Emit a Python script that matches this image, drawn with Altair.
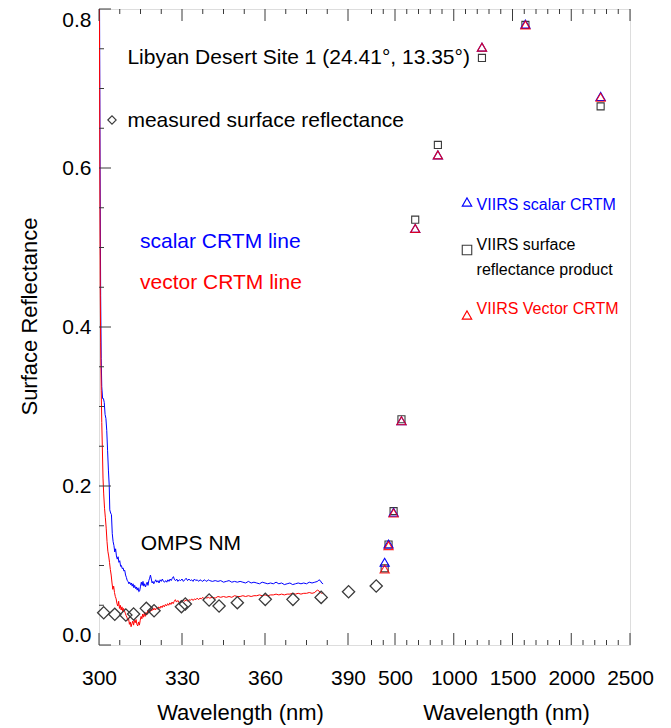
import altair as alt
import pandas as pd

# ---------------- data ----------------
# CRTM simulated spectra (OMPS NM range), scalar and vector
scalar_wl = [300.0, 300.2, 300.4, 300.6, 300.8, 301.0, 301.3, 301.6, 301.9, 302.2, 302.5, 302.8,
             303.1, 303.4, 303.7, 303.9, 304.2, 304.5, 304.8, 305.1, 305.4, 305.7, 306.0, 306.3,
             306.6, 306.9, 307.2, 307.5, 307.8, 308.1, 308.4, 308.7, 309.0, 309.3, 309.6, 309.9,
             310.2, 310.5, 310.8, 311.1, 311.4, 311.7, 312.0, 312.3, 312.6, 312.9, 313.2, 313.5,
             313.8, 314.1, 314.4, 314.7, 315.0, 315.3, 315.6, 315.9, 316.2, 316.5, 316.8, 317.1,
             317.4, 317.7, 318.0, 318.3, 318.6, 318.9, 319.2, 319.5, 319.8, 320.1, 320.5, 320.9,
             321.3, 321.7, 322.1, 322.5, 322.9, 323.3, 323.7, 324.1, 324.5, 324.9, 325.3, 325.7,
             326.1, 326.5, 326.9, 327.3, 327.7, 328.1, 328.5, 329.0, 329.5, 330.0, 330.5, 331.0,
             331.5, 332.0, 332.5, 333.0, 333.5, 334.0, 334.5, 335.0, 335.5, 336.0, 336.5, 337.0,
             337.5, 338.0, 338.5, 339.0, 339.5, 340.0, 341, 342, 343, 344, 345, 346, 347, 348,
             349, 350, 351, 352, 353, 354, 355, 356, 357, 358, 359, 360, 361, 362, 363, 364, 365,
             366, 367, 368, 369, 370, 371, 372, 373, 374, 375, 376, 377, 378, 379, 379.5, 380,
             380.5, 381]
scalar_r = [0.98, 0.80, 0.60, 0.44, 0.36, 0.325, 0.31, 0.31, 0.305, 0.29, 0.285, 0.27,
            0.245, 0.22, 0.20, 0.17, 0.166, 0.164, 0.14, 0.13, 0.125, 0.117, 0.121, 0.112,
            0.108, 0.111, 0.104, 0.106, 0.099, 0.100, 0.096, 0.097, 0.093, 0.094, 0.088, 0.085,
            0.081, 0.080, 0.077, 0.079, 0.076, 0.078, 0.074, 0.077, 0.072, 0.075, 0.071, 0.073,
            0.069, 0.072, 0.067, 0.068, 0.074, 0.079, 0.075, 0.080, 0.074, 0.077, 0.073, 0.076,
            0.079, 0.075, 0.081, 0.084, 0.088, 0.083, 0.078, 0.080, 0.077, 0.079, 0.082, 0.079,
            0.081, 0.078, 0.082, 0.080, 0.083, 0.080, 0.079, 0.081, 0.079, 0.082, 0.080, 0.083,
            0.081, 0.084, 0.086, 0.082, 0.081, 0.083, 0.080, 0.082, 0.081, 0.083, 0.080, 0.082,
            0.084, 0.081, 0.083, 0.081, 0.082, 0.080, 0.083, 0.081, 0.082, 0.080, 0.082, 0.081,
            0.080, 0.082, 0.081, 0.080, 0.082, 0.081, 0.080, 0.081, 0.080, 0.081, 0.079, 0.080,
            0.081, 0.079, 0.080, 0.079, 0.080, 0.079, 0.078, 0.080, 0.078, 0.079, 0.078, 0.077,
            0.079, 0.078, 0.077, 0.078, 0.077, 0.079, 0.077, 0.078, 0.076, 0.077, 0.078, 0.076,
            0.077, 0.078, 0.077, 0.078, 0.077, 0.079, 0.078, 0.079, 0.080, 0.082, 0.081,
            0.078, 0.077]

vector_wl = [300.0, 300.15, 300.3, 300.45, 300.6, 300.8, 301.0, 301.2, 301.45, 301.7, 302.0,
             302.3, 302.6, 302.9, 303.2, 303.5, 303.8, 304.1, 304.4, 304.7, 305.0, 305.3, 305.6,
             305.9, 306.2, 306.5, 306.8, 307.1, 307.4, 307.7, 308.0, 308.3, 308.6, 308.9, 309.2,
             309.5, 309.8, 310.1, 310.4, 310.7, 311.0, 311.3, 311.6, 311.9, 312.2, 312.5, 312.8,
             313.1, 313.4, 313.7, 314.0, 314.3, 314.6, 314.9, 315.2, 315.5, 315.8, 316.1, 316.4,
             316.7, 317.0, 317.3, 317.6, 317.9, 318.2, 318.5, 318.8, 319.1, 319.4, 319.7, 320.0,
             320.4, 320.8, 321.2, 321.6, 322.0, 322.4, 322.8, 323.2, 323.6, 324.0, 324.4, 324.8,
             325.2, 325.6, 326.0, 326.4, 326.8, 327.2, 327.6, 328.0, 328.5, 329.0, 329.5, 330.0,
             330.5, 331.0, 331.5, 332.0, 332.5, 333.0, 333.5, 334.0, 334.5, 335.0, 335.5, 336.0,
             336.5, 337.0, 337.5, 338.0, 338.5, 339.0, 339.5, 340.0, 341, 342, 343, 344, 345,
             346, 347, 348, 349, 350, 351, 352, 353, 354, 355, 356, 357, 358, 359, 360, 361, 362,
             363, 364, 365, 366, 367, 368, 369, 370, 371, 372, 373, 374, 375, 376, 377, 378,
             378.5, 379, 379.5, 380, 380.5, 381]
vector_r = [0.98, 0.80, 0.60, 0.45, 0.38, 0.32, 0.28, 0.25, 0.21, 0.19, 0.172,
            0.160, 0.147, 0.130, 0.118, 0.112, 0.104, 0.095, 0.088, 0.078, 0.070, 0.074, 0.066,
            0.061, 0.058, 0.052, 0.049, 0.055, 0.046, 0.050, 0.044, 0.048, 0.042, 0.046, 0.043,
            0.040, 0.037, 0.035, 0.031, 0.033, 0.026, 0.029, 0.023, 0.027, 0.030, 0.025, 0.031,
            0.028, 0.032, 0.026, 0.024, 0.029, 0.025, 0.031, 0.036, 0.033, 0.039, 0.035, 0.040,
            0.036, 0.041, 0.038, 0.043, 0.040, 0.044, 0.042, 0.045, 0.043, 0.047, 0.044, 0.046,
            0.044, 0.047, 0.045, 0.048, 0.046, 0.049, 0.047, 0.050, 0.048, 0.051, 0.049, 0.052,
            0.050, 0.053, 0.051, 0.054, 0.052, 0.055, 0.057, 0.054, 0.056, 0.053, 0.055, 0.054,
            0.056, 0.055, 0.057, 0.055, 0.057, 0.056, 0.058, 0.056, 0.058, 0.057, 0.059, 0.057,
            0.059, 0.058, 0.060, 0.058, 0.060, 0.059, 0.060, 0.059, 0.060, 0.059, 0.061, 0.060, 0.061,
            0.060, 0.061, 0.060, 0.062, 0.061, 0.061, 0.062, 0.061, 0.062, 0.061, 0.062, 0.062, 0.063, 0.062, 0.063, 0.062, 0.063,
            0.063, 0.064, 0.063, 0.064, 0.063, 0.064, 0.064, 0.065, 0.064, 0.065, 0.064, 0.065, 0.065, 0.066, 0.065, 0.066,
            0.068, 0.069, 0.068, 0.066, 0.065, 0.066]

# measured surface reflectance (diamonds)
omps_wl = [301.7, 305.7, 309.7, 312.5, 317.1, 319.9, 329.8, 331.2, 339.8, 343.4, 350.0,
           360.1, 370.1, 380.3, 390.2, 400.2]
omps_r = [0.0406, 0.0386, 0.0377, 0.0390, 0.0461, 0.0431, 0.0482, 0.0516, 0.0566, 0.0491,
          0.0532, 0.0574, 0.0574, 0.0599, 0.0670, 0.0742]

# VIIRS bands
viirs_wl = [412, 445, 488, 555, 672, 865, 1240, 1610, 2250]
viirs_product = [0.0964, 0.1264, 0.1684, 0.284, 0.535, 0.629, 0.7385, 0.780, 0.6775]
viirs_scalar = [0.104, 0.127, 0.167, 0.282, 0.524, 0.6165, 0.752, 0.781, 0.690]
viirs_vector = [0.0955, 0.125, 0.166, 0.282, 0.524, 0.6165, 0.752, 0.780, 0.689]

# axis ticks / labels
left_labels = [300, 330, 360, 390]
left_minor = [307.5, 315, 322.5, 337.5, 345, 352.5, 367.5, 375, 382.5]
right_labels = [500, 1000, 1500, 2000, 2500]
right_minor = [300, 400, 600, 700, 800, 900, 1100, 1200, 1300, 1400, 1600, 1700, 1800,
               1900, 2100, 2200, 2300, 2400]
y_labels = [0.0, 0.2, 0.4, 0.6, 0.8]
y_minor = [0.05, 0.1, 0.15, 0.25, 0.3, 0.35, 0.45, 0.5, 0.55, 0.65, 0.7, 0.75]

# ---------------- chart ----------------
FONT = "Liberation Sans"
BLUE = "#0000ff"
RED = "#ff0000"
GRAY = "#3a3a3a"
W, H = 531, 636
SPLIT = 249

y_scale = alt.Scale(domain=[0, 0.8], nice=False, zero=False)
left_x = alt.Scale(domain=[300, 390], range=[0, SPLIT], nice=False, zero=False)
right_x = alt.Scale(domain=[100, 2500], range=[SPLIT, W], nice=False, zero=False)

axis_common = dict(orient="bottom", ticks=False, domain=False, grid=False, labelFontSize=21,
                   labelPadding=22, titleFontSize=22, titlePadding=14, format="d",
                   labelOverlap=False, labelFlush=False, labelColor="black", titleColor="black",
                   titleFontWeight="normal", labelFont=FONT, titleFont=FONT)
left_axis = alt.Axis(values=left_labels, title="Wavelength (nm)", titleX=141, **axis_common)
right_axis = alt.Axis(values=right_labels, title="Wavelength (nm)", titleX=407, **axis_common)
y_axis = alt.Axis(values=y_labels, format=".1f", title="Surface Reflectance", ticks=False,
                  domain=False, grid=False, labelFontSize=21, labelPadding=8, labelFlush=True,
                  titleFontSize=22, titlePadding=20, titleY=307, labelColor="black",
                  titleColor="black", titleFontWeight="normal", labelFont=FONT, titleFont=FONT)


def lx(field="wl"):
    return alt.X(f"{field}:Q", scale=left_x, axis=left_axis)


def rx(field="wl"):
    return alt.X(f"{field}:Q", scale=right_x, axis=right_axis)


def yy(field="r"):
    return alt.Y(f"{field}:Q", scale=y_scale, axis=y_axis)


lines_df = pd.concat([
    pd.DataFrame({"wl": scalar_wl, "r": scalar_r, "series": "scalar"}),
    pd.DataFrame({"wl": vector_wl, "r": vector_r, "series": "vector"}),
])

lines = alt.Chart(lines_df).mark_line(clip=True, strokeWidth=1).encode(
    x=lx(), y=yy(),
    color=alt.Color("series:N", scale=alt.Scale(domain=["scalar", "vector"], range=[BLUE, RED]),
                    legend=None),
    order=alt.Order("wl:Q"),
)

diamonds = alt.Chart(pd.DataFrame({"wl": omps_wl, "r": omps_r})).mark_point(
    shape="diamond", size=150, filled=False, color=GRAY, strokeWidth=1.3, opacity=1
).encode(x=lx(), y=yy())


def tick_rules(values, scale_fn, length, top):
    df = pd.DataFrame({"v": values})
    if top:
        return alt.Chart(df).mark_rule(color=GRAY, strokeWidth=1).encode(
            x=scale_fn("v"), y=alt.value(0), y2=alt.value(length))
    return alt.Chart(df).mark_rule(color=GRAY, strokeWidth=1).encode(
        x=scale_fn("v"), y=alt.value(H), y2=alt.value(H - length))


left_ticks = [
    tick_rules(left_labels, lx, 12, False), tick_rules(left_minor, lx, 5, False),
    tick_rules(left_labels, lx, 12, True), tick_rules(left_minor, lx, 5, True),
]
right_ticks = [
    tick_rules(right_labels, rx, 12, False), tick_rules(right_minor, rx, 5, False),
    tick_rules(right_labels, rx, 12, True), tick_rules(right_minor, rx, 5, True),
]

y_major_ticks = alt.Chart(pd.DataFrame({"v": y_labels})).mark_rule(color=GRAY).encode(
    y=yy("v"), x=alt.value(0), x2=alt.value(12))
y_minor_ticks = alt.Chart(pd.DataFrame({"v": y_minor})).mark_rule(color=GRAY).encode(
    y=yy("v"), x=alt.value(0), x2=alt.value(5))


def label(text, x, y, size=21, color="black"):
    return alt.Chart(pd.DataFrame({"t": [text]})).mark_text(
        align="left", baseline="middle", fontSize=size, font=FONT, color=color
    ).encode(x=alt.value(x), y=alt.value(y), text="t:N")


def legend_symbol(shape, x, y, color, size):
    return alt.Chart(pd.DataFrame({"s": [shape]})).mark_point(
        shape=shape, size=size, filled=False, color=color, strokeWidth=1.1, opacity=1
    ).encode(x=alt.value(x), y=alt.value(y))


texts = [
    label("Libyan Desert Site 1 (24.41°,  13.35°)", 28.4, 48.5),
    legend_symbol("diamond", 13, 111, GRAY, 70),
    label("measured surface reflectance", 28.4, 112),
    label("scalar CRTM line", 41, 233, color=BLUE),
    label("vector CRTM line", 41, 274, color=RED),
    label("OMPS NM", 41.7, 534.5),
    legend_symbol("triangle-up", 368, 193, BLUE, 90),
    label("VIIRS scalar CRTM", 377.6, 195.5, size=16, color=BLUE),
    legend_symbol("square", 368, 241, GRAY, 90),
    label("VIIRS surface", 377.6, 236, size=16),
    label("reflectance product", 377.6, 260.5, size=16),
    legend_symbol("triangle-up", 368, 306, RED, 90),
    label("VIIRS Vector CRTM", 377.6, 300, size=16, color=RED),
]

left_group = alt.layer(lines, diamonds, *left_ticks, y_major_ticks, y_minor_ticks, *texts)

viirs_df = pd.DataFrame({"wl": viirs_wl, "product": viirs_product,
                         "scalar": viirs_scalar, "vector": viirs_vector})
squares = alt.Chart(viirs_df).mark_point(shape="square", size=50, filled=False, color=GRAY,
                                         strokeWidth=1.1, opacity=1).encode(x=rx(), y=yy("product"))
tri_s = alt.Chart(viirs_df).mark_point(shape="triangle-up", size=85, filled=False, color=BLUE,
                                       strokeWidth=1.1, opacity=1).encode(x=rx(), y=yy("scalar"))
tri_v = alt.Chart(viirs_df).mark_point(shape="triangle-up", size=85, filled=False, color=RED,
                                       strokeWidth=1.1, opacity=0.85).encode(x=rx(), y=yy("vector"))

right_group = alt.layer(squares, tri_s, tri_v, *right_ticks)

chart = alt.layer(left_group, right_group).resolve_scale(x="independent").resolve_axis(
    x="independent"
).properties(
    width=W, height=H,
    padding={"left": 91, "top": 1, "right": 32, "bottom": 83},
    autosize=alt.AutoSizeParams(type="none"),
).configure_view(stroke="#555555", strokeWidth=1.2).configure(background="white")

chart.save("out.html", embed_options={"renderer": "svg", "actions": False})
